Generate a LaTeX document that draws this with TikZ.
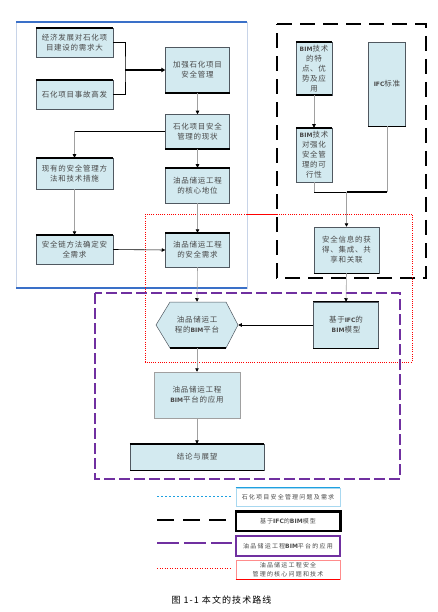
\documentclass[tikz,border=0pt]{standalone}
\usepackage{fontspec}
\setmainfont{Noto Sans CJK SC}
\newfontfamily\cjk[LetterSpace=10]{Noto Sans CJK SC}
\newfontfamily\cjkleg[LetterSpace=20]{Noto Sans CJK SC}
\newfontfamily\cjkcap[LetterSpace=12]{Noto Sans CJK SC}
\newfontfamily\lat{DejaVu Sans}
\usetikzlibrary{arrows.meta}
\newcommand\BIMtext{{\lat\bfseries\fontsize{6}{6}\selectfont BIM}}
\newcommand\IFCtext{{\lat\bfseries\fontsize{6}{6}\selectfont IFC}}
\definecolor{boxfill}{HTML}{D3EAF0}
\definecolor{boxline}{HTML}{505860}
\definecolor{txt}{HTML}{484848}
\definecolor{conngray}{HTML}{A0A0A0}
\definecolor{frameblue}{HTML}{3A70C8}
\definecolor{framelight}{HTML}{C8D4E8}
\definecolor{purp}{HTML}{7030A0}
\definecolor{legblue}{HTML}{1EA0E0}
\definecolor{leglight}{HTML}{A8D8F0}
\tikzset{
  box/.style={draw=boxline, fill=boxfill, line width=0.5pt, inner sep=1pt, align=center,
    font=\cjk\fontsize{7.5}{10}\selectfont, text=txt},
  thk/.style={line width=2pt, black},
  tip/.style={-{Triangle[black,length=3.5pt,width=3.5pt]}},
  gconn/.style={conngray, line width=0.6pt, tip},
  bconn/.style={black, line width=0.6pt, tip},
  legbox/.style={inner sep=1pt, align=center, font=\cjkleg\fontsize{6}{8.5}\selectfont, text=txt},
}
\begin{document}
\begin{tikzpicture}[x=1pt,y=-1pt]
\useasboundingbox (0,0) rectangle (437,612);
% frames
\draw[framelight, line width=0.8pt] (16,22) rectangle (247,288);
\draw[frameblue, line width=2pt] (16,22) -- (247,22);
\draw[frameblue, line width=2pt] (16,288) -- (247,288);
\draw[black, line width=2pt, dash pattern=on 15pt off 8pt] (277,24) -- (426,24) -- (426,278) -- (277,278) -- cycle;
\draw[red, line width=0.6pt, dash pattern=on 1pt off 1.2pt] (145,214) rectangle (412,362);
\draw[red, line width=0.8pt] (247,214) -- (277,214);
\draw[purp, line width=1.8pt, dash pattern=on 11pt off 4pt] (95,293) rectangle (400,479);

% nodes
\node[box, minimum width=77, minimum height=29] (A) at (74.5,42.5) {经济发展对石化项\\目建设的需求大};
\node[box, minimum width=77, minimum height=29] (B) at (74.5,94.5) {石化项目事故高发};
\node[box, minimum width=64, minimum height=45] (C) at (197.5,70) {加强石化项目\\安全管理};
\node[box, minimum width=64, minimum height=34] (D) at (197.5,131.5) {石化项目安全\\管理的现状};
\node[box, minimum width=77, minimum height=31] (E) at (74.5,173.5) {现有的安全管理方\\法和技术措施};
\node[box, minimum width=64, minimum height=35] (F) at (197.5,185.5) {油品储运工程\\的核心地位};
\node[box, minimum width=77, minimum height=29] (G) at (74.5,249.5) {安全链方法确定安\\全需求};
\node[box, minimum width=64, minimum height=34] (H) at (197.5,250) {油品储运工程\\的安全需求};
\node[box, minimum width=36, minimum height=53] (I) at (314,68.5) {\BIMtext 技术\\的特\\点、优\\势及应\\用};
\node[box, minimum width=37, minimum height=84] (J) at (387,84) {\IFCtext 标准};
\node[box, minimum width=36, minimum height=54] (K) at (314,155) {\BIMtext 技术\\对强化\\安全管\\理的可\\行性};
\node[box, minimum width=65, minimum height=46] (L) at (346.5,250) {安全信息的获\\得、集成、共\\享和关联};
\node[box, minimum width=65, minimum height=46] (M) at (346,325) {基于\IFCtext 的\\\BIMtext 模型};
\draw[boxline, fill=boxfill, line width=0.5pt] (156,325) -- (170,302) -- (226,302) -- (238,325) -- (226,348) -- (170,348) -- cycle;
\node[box, draw=none, fill=none, minimum width=82, minimum height=46] (N) at (197,325) {油品储运工\\程的\BIMtext 平台};
\node[box, draw=conngray, minimum width=86, minimum height=46] (O) at (197,395) {油品储运工程\\\BIMtext 平台的应用};
\node[box, minimum width=134, minimum height=26] (P) at (197,457) {结论与展望};

% thick edges
\draw[thk] (A.north west) -- (A.north east);
\draw[thk] (B.north west) -- (B.north east);
\draw[thk] (C.south west) -- (C.south east);
\draw[thk] (D.south west) -- (D.south east);
\draw[thk] (E.north west) -- (E.north east);
\draw[thk] (F.north west) -- (F.north east);
\draw[thk] (G.north west) -- (G.north east);
\draw[thk] (H.north west) -- (H.north east);
\draw[thk] (I.north west) -- (I.north east);
\draw[thk] (I.south west) -- (I.south east);
\draw[black, line width=1pt] (J.south west) -- (J.south east);
\draw[thk] (K.north west) -- (K.north east);
\draw[black, line width=1pt] (L.south west) -- (L.south east);
\draw[black, line width=1.2pt] (M.north west) -- (M.north east);
\draw[black, line width=1.2pt] (M.south west) -- (M.south east);
\draw[thk] (170,348) -- (226,348);
\draw[thk] (P.north west) -- (P.north east);
\draw[black, line width=1pt] (P.south west) -- (P.south east);

% connectors
\coordinate (jAB) at (125,70);
\draw[black, line width=0.6pt] (A.east) -| (jAB) |- (B.east);
\draw[black, line width=2pt, -{Triangle[length=4pt,width=4.5pt]}] (jAB) -- (C.west);
\draw[gconn] (C.south) -- (D.north);
\coordinate (dE) at (E.north |- D.west);
\draw[black, line width=0.6pt] (D.west) -- (dE);
\draw[gconn] (dE) -- (E.north);
\draw[gconn] (D.south) -- (F.north);
\draw[gconn] (E.south) -- (G.north);
\draw[bconn] (G.east) -- (H.west);
\draw[gconn] (F.south) -- (H.north);
\draw[gconn] (H.south) -- (N.north);
\draw[gconn] (I.south) -- (K.north);
\coordinate (kb) at (314,192);
\coordinate (jb) at (387,192);
\coordinate (jKL) at (346.5,192);
\draw[conngray, line width=0.6pt] (K.south) -- (kb);
\draw[conngray, line width=0.6pt] (J.south) -- (jb);
\draw[black, line width=0.6pt] (kb) -- (jKL);
\draw[black, line width=2pt] (jKL) -- (jb);
\draw[gconn] (jKL) -- (L.north);
\draw[gconn] (L.south) -- (M.north);
\draw[bconn] (M.west) -- (N.east);
\draw[gconn] (N.south) -- (O.north);
\draw[gconn] (O.south) -- (P.north);

% legend
\coordinate (l1a) at (157,496); \coordinate (l1b) at (232,496);
\coordinate (l2a) at (157,520); \coordinate (l2b) at (232,520);
\coordinate (l3a) at (157,543); \coordinate (l3b) at (232,543);
\coordinate (l4a) at (157,568); \coordinate (l4b) at (232,568);
\draw[legblue, line width=0.7pt, dash pattern=on 2pt off 2pt] (l1a) -- (l1b);
\draw[black, line width=2pt, dash pattern=on 17pt off 9pt] (l2a) -- (l2b);
\draw[purp, line width=2.5pt, dash pattern=on 22pt off 5pt] (l3a) -- (l3b);
\draw[red, line width=0.6pt, dash pattern=on 1pt off 1.5pt] (l4a) -- (l4b);

\node[legbox, draw=leglight, line width=0.6pt, minimum width=104, minimum height=18] (Q1) at (288,497) {石化项目安全管理问题及需求};
\draw[legblue, line width=1.2pt] (Q1.north west) -- (Q1.north east);
\node[legbox, draw=black, line width=1.2pt, minimum width=104, minimum height=19] (Q2) at (288,521.5) {基于\IFCtext 的\BIMtext 模型};
\draw[black, line width=2pt] (Q2.north west) -- (Q2.north east) -- (Q2.south east);
\node[legbox, draw=purp, line width=1.2pt, minimum width=104, minimum height=20] (Q3) at (288,546) {油品储运工程\BIMtext 平台的应用};
\node[legbox, draw=red!45, line width=0.6pt, minimum width=104, minimum height=19] (Q4) at (288,569.5) {油品储运工程安全\\管理的核心问题和技术};
\draw[red, line width=1pt] (Q4.south west) -- (Q4.south east);

\node[font=\cjkcap\fontsize{9}{11}\selectfont, text=black, inner sep=0pt] (cap) at (221.5,600) {图\ 1-1\ 本文的技术路线};
\end{tikzpicture}
\end{document}
